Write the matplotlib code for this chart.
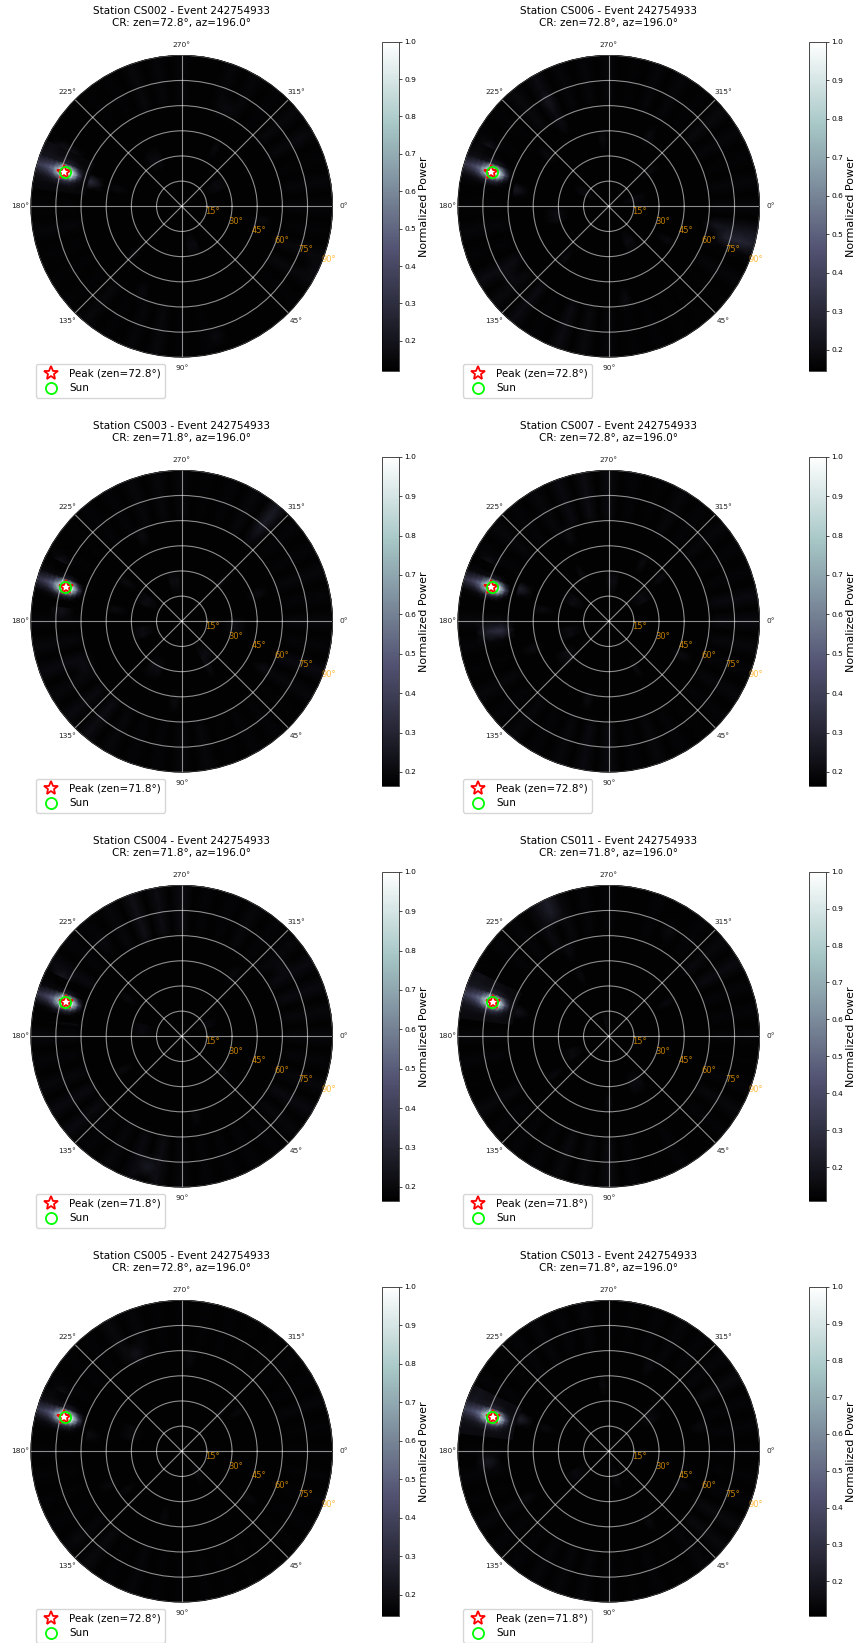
import numpy as np
import matplotlib
matplotlib.use("Agg")
import matplotlib.pyplot as plt
from matplotlib.colors import Normalize

W, H = 857, 1643
EVENT = "242754933"
CR_AZ = 196.0
STATIONS = ["CS002", "CS006", "CS003", "CS007", "CS004", "CS011", "CS005", "CS013"]
CR_ZEN = [72.8, 72.8, 71.8, 72.8, 71.8, 71.8, 72.8, 71.8]
PEAK_ZEN = [72.8, 72.8, 71.8, 72.8, 71.8, 71.8, 72.8, 71.8]
PEAK_AZ = 196.3
SUN_ZEN = 72.3
SUN_AZ = 196.4
VMIN = [0.12, 0.145, 0.165, 0.165, 0.165, 0.109, 0.145, 0.106]

# Sky level per station (inner region) and level of its faint sidelobe spots, read by eye
INNER = {"CS002": .127, "CS006": .152, "CS003": .172, "CS007": .172,
         "CS004": .172, "CS011": .116, "CS005": .152, "CS013": .113}
SPOT_LEVEL = {"CS002": .165, "CS006": .195, "CS003": .215, "CS007": .215,
              "CS004": .205, "CS011": .155, "CS005": .185, "CS013": .15}

# Outer sky (zenith 64+) brightness at every 10 degrees of azimuth
OUTER = {
 "CS002": [.15,.14,.155,.155,.14,.13,.13,.13,.14,.14,.155,.15,.14,.155,.14,.14,.14,.15,.14,
           .14,.14,.13,.13,.14,.14,.155,.15,.15,.13,.15,.15,.14,.155,.155,.14,.15],
 "CS006": [.175,.22,.16,.175,.16,.16,.16,.165,.165,.175,.185,.195,.165,.195,.185,.195,.165,.175,.165,
           .165,.175,.165,.165,.185,.195,.175,.175,.175,.16,.175,.175,.165,.185,.175,.165,.175],
 "CS003": [.195,.185,.205,.195,.18,.185,.185,.18,.195,.195,.185,.185,.195,.215,.205,.195,.205,.195,.185,
           .185,.185,.18,.18,.185,.185,.195,.195,.195,.18,.185,.195,.205,.185,.185,.195,.185],
 "CS007": [.205,.195,.185,.195,.185,.18,.185,.195,.185,.205,.205,.195,.185,.195,.185,.195,.18,.185,.195,
           .185,.185,.185,.195,.185,.195,.205,.215,.205,.185,.18,.195,.185,.195,.185,.185,.205],
 "CS004": [.195,.185,.195,.205,.195,.185,.185,.185,.185,.195,.215,.205,.195,.185,.205,.205,.195,.185,.195,
           .185,.185,.205,.185,.185,.195,.225,.215,.215,.185,.185,.195,.185,.195,.205,.205,.195],
 "CS011": [.13,.12,.13,.145,.13,.12,.13,.12,.13,.155,.145,.145,.135,.13,.13,.145,.12,.13,.13,
           .12,.13,.12,.13,.135,.155,.145,.135,.13,.12,.13,.12,.13,.145,.155,.135,.13],
 "CS005": [.165,.16,.165,.165,.16,.16,.16,.16,.165,.165,.165,.175,.165,.185,.175,.165,.16,.165,.16,
           .16,.16,.165,.165,.165,.185,.175,.165,.165,.16,.165,.16,.16,.165,.165,.175,.165],
 "CS013": [.12,.12,.13,.145,.145,.135,.12,.13,.12,.13,.135,.135,.135,.13,.13,.135,.12,.13,.12,
           .12,.13,.13,.12,.13,.135,.13,.135,.12,.12,.13,.135,.13,.135,.145,.13,.13],
}

# Faint spots (azimuth, zenith), one level per station
SPOTS = {
 "CS002": [(331,26),(195,40),(137,37),(76,28),(297,65),(330,77),(27,86),(74,82),(300,40),(240,30),(115,60),(10,50)],
 "CS006": [(346,20),(240,56),(218,50),(130,38),(59,27),(211,20),(265,43),(109,67),(145,71),(300,50),(30,40),(170,30),(320,32),(80,55)],
 "CS003": [(209,26),(260,22),(165,24),(217,44),(55,21),(6,31),(28,53),(247,54),(313,34),(154,65),(120,30),(60,35),(340,50),(190,40),(95,45)],
 "CS007": [(245,56),(240,35),(190,40),(166,22),(25,50),(318,40),(104,50),(299,42),(324,28),(60,36),(140,30),(210,22),(160,50),(275,24)],
 "CS004": [(270,4),(190,23),(228,73),(108,72),(78,52),(333,19),(323,71),(249,88),(260,84),(310,45),(150,40),(40,35),(215,40)],
 "CS011": [(260,12),(244,54),(243,37),(143,39),(91,39),(299,69),(319,67),(111,74),(88,73),(156,23),(60,30),(330,40)],
 "CS005": [(146,37),(107,37),(275,53),(313,34),(153,50),(142,80),(57,20),(325,40),(200,30),(35,50)],
 "CS013": [(147,24),(76,20),(149,56),(26,52),(345,56),(199,39),(62,49),(297,59),(266,37),(320,30)],
}

# Stronger lobes (azimuth, zenith, power)
LOBES = {
 "CS002": [(194,56,.30),(206,72,.20),(206,80,.20)],
 "CS006": [(190,56,.24),(15,72,.27),(15,80,.29),(15,88,.27),(238,72,.23),(205,80,.24)],
 "CS003": [(202,64,.28),(184,72,.24),(311,72,.25),(311,80,.27),(311,88,.25),(205,80,.25)],
 "CS007": [(199,56,.29),(174,64,.34),(174,72,.30),(205,80,.24)],
 "CS004": [(189,64,.30),(189,72,.26),(206,80,.27),(105,80,.26)],
 "CS011": [(194,56,.19),(247,80,.22),(247,88,.23)],
 "CS005": [(245,64,.22),(192,56,.20),(205,80,.21)],
 "CS013": [(200,56,.24),(175,72,.21)],
}

# Main beam, shared by all stations: rows are zenith, columns azimuth
BEAM_AZ = [187, 190, 192.5, 194.8, 196.5, 198.2, 200.5, 203, 206]
BEAM_ZEN = [58, 62, 65, 68, 71, 74, 77, 80, 83, 86, 90, 96]
BEAM = [
 [.15,.15,.15,.15,.15,.15,.15,.15,.15],
 [.15,.15,.16,.18,.20,.18,.16,.15,.15],
 [.15,.16,.19,.36,.50,.34,.18,.15,.15],
 [.15,.17,.28,.74,.90,.66,.22,.16,.15],
 [.15,.17,.32,.88,1.0,.84,.26,.17,.15],
 [.15,.17,.30,.82,.96,.80,.25,.17,.16],
 [.15,.16,.26,.64,.78,.60,.22,.17,.16],
 [.15,.16,.22,.42,.54,.40,.20,.17,.16],
 [.15,.16,.20,.32,.44,.34,.20,.18,.17],
 [.15,.16,.19,.29,.38,.31,.20,.18,.17],
 [.15,.16,.18,.26,.34,.28,.19,.17,.16],
 [.15,.16,.17,.23,.30,.25,.18,.16,.16],
]

TICK_R = [15, 30, 45, 60, 75, 90]
TICK_AZ = [0, 45, 90, 135, 180, 225, 270, 315]
CB_TICKS = [.1, .2, .3, .4, .5, .6, .7, .8, .9, 1.0]

AZ_NODES = np.arange(0, 365, 5)
ZEN_NODES = np.arange(0, 97, 8)


def px_box(x0, y0, x1, y1):
    return [x0 / W, 1 - y1 / H, (x1 - x0) / W, (y1 - y0) / H]


def put(C, az, zen, p):
    j = int(np.argmin(abs(ZEN_NODES - zen)))
    k = int(round(az / 5)) % 72
    reach = 1 if zen < 32 else 0
    for d in range(-reach, reach + 1):
        C[j, (k + d) % 72] = max(C[j, (k + d) % 72], p)
    C[:, 72] = C[:, 0]


fig = plt.figure(figsize=(W / 100, H / 100), dpi=100)

for i, st in enumerate(STATIONS):
    col, row = i % 2, i // 2
    cx, cy = 181.7 + 427 * col, 206.3 + 415 * row
    R = 151.0
    ax = fig.add_axes(px_box(cx - R, cy - R, cx + R, cy + R), projection="polar")
    norm = Normalize(VMIN[i], 1.0)
    cmap = plt.get_cmap("bone")
    ax.set_theta_zero_location("E")
    ax.set_theta_direction(-1)
    ax.set_facecolor(cmap(norm(INNER[st])))

    # Node grid: ribs of the outer sky sit on every second azimuth node
    C = np.full((len(ZEN_NODES), len(AZ_NODES)), INNER[st], dtype=float)
    for n, value in enumerate(OUTER[st]):
        for zen in ZEN_NODES[ZEN_NODES >= 64]:
            put(C, n * 10, zen, value)
    for az, zen in SPOTS[st]:
        put(C, az, zen, SPOT_LEVEL[st])
    for az, zen, p in LOBES[st]:
        put(C, az, zen, p)
    ax.pcolormesh(np.radians(AZ_NODES), ZEN_NODES, C, shading="gouraud", cmap=cmap, norm=norm)

    beam = np.array(BEAM)
    ax.pcolormesh(np.radians(BEAM_AZ), BEAM_ZEN, np.maximum(beam, INNER[st]),
                  shading="gouraud", cmap=cmap, norm=norm)

    ax.plot(np.radians(PEAK_AZ), PEAK_ZEN[i], ls="none", marker="*", ms=10.5, mfc="white", mec="red",
            mew=1.3, label=f"Peak (zen={PEAK_ZEN[i]}°)", zorder=5)
    ax.plot(np.radians(SUN_AZ), SUN_ZEN, ls="none", marker="o", ms=8, mfc="none", mec="lime",
            mew=1.3, label="Sun", zorder=6)

    ax.set_rlim(0, 90)
    ax.set_rticks(TICK_R)
    ax.set_yticklabels([f"{t}°" for t in TICK_R], color="orange", alpha=0.75, fontsize=6)
    ax.set_rlabel_position(22.5)
    ax.set_thetagrids(TICK_AZ, [f"{t}°" for t in TICK_AZ], fontsize=5.4, color="#222222")
    ax.tick_params(axis="x", pad=-2.8)
    ax.grid(True, color="white", alpha=0.55, lw=0.8)
    ax.spines["polar"].set_linewidth(0.4)

    ax.set_title(f"Station {st} - Event {EVENT}\nCR: zen={CR_ZEN[i]}°, az={CR_AZ}°", fontsize=7.5,
                 y=1.0, pad=21, linespacing=1.25)

    x0 = 36 + 427 * col
    y0 = 364 + 415 * row
    ax.legend(loc="upper left", bbox_to_anchor=(x0 / W, 1 - y0 / H), bbox_transform=fig.transFigure,
              borderaxespad=0, fontsize=7.5, numpoints=1)

    cax = fig.add_axes(px_box(382 + 427 * col, 41.7 + 415 * row, 399 + 427 * col, 370.7 + 415 * row))
    cb = fig.colorbar(plt.cm.ScalarMappable(norm=norm, cmap=cmap), cax=cax)
    cb.set_ticks([t for t in CB_TICKS if t >= VMIN[i]])
    cb.ax.tick_params(labelsize=5.4, length=2, width=0.5, pad=2)
    cb.outline.set_linewidth(0.5)
    cb.set_label("Normalized Power", fontsize=8, labelpad=2)

fig.savefig("out.png", dpi=100)
